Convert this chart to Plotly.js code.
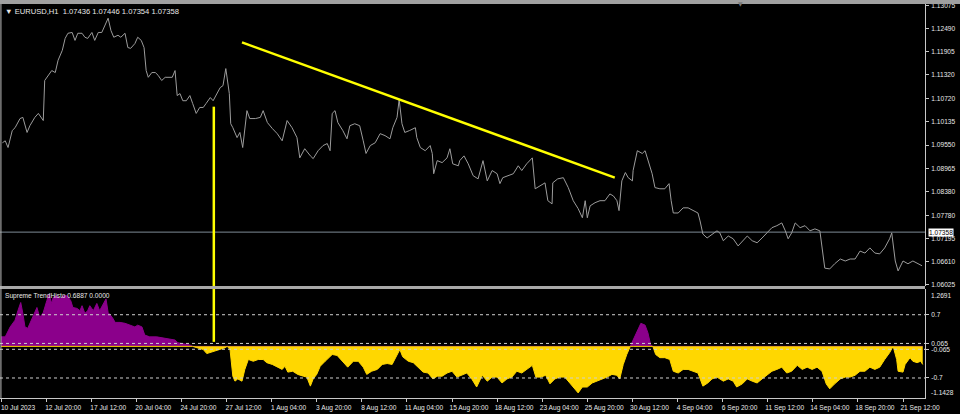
<!DOCTYPE html>
<html>
<head>
<meta charset="utf-8">
<script src="https://cdn.plot.ly/plotly-3.0.1.min.js"></script>
<style>
html,body{margin:0;padding:0;background:#000;}
#chart{width:960px;height:414px;}
</style>
</head>
<body>
<div id="chart"></div>
<script>
// ---- DATA ----
const symbolHeader = "\u25BC EURUSD,H1  1.07436 1.07446 1.07354 1.07358";
const indicatorHeader = "Supreme TrendHisto 0.6887 0.0000";

// H1 bar index (trading hours from 10 Jul 2023) and close price
const priceBars = [
  2,6,10,16,20,27,31,37,41,48,53,
  60,62,67,72,77,81,87,91,95,101,
  105,109,115,119,123,129,133,138,143,148,
  152,156,160,166,170,176,180,184,190,194,
  199,203,206,209,214,219,223,228,233,237,
  243,247,250,254,258,263,268,272,277,282,
  287,291,297,301,307,311,315,319,324,326,
  329,335,339,343,349,353,361,368,372,378,
  385,392,399,406,413,420,424,431,439,443,
  450,457,463,467,470,474,478,485,491,495,
  502,509,514,518,524,531,538,545,552,556,
  562,565,569,573,580,588,590,595,602,609,
  612,614,619,626,633,637,641,649,651,657,
  663,670,677,684,690,697,704,708,712,720,
  727,734,739,746,754,758,765,772,776,782,
  783,790,798,805,812,819,825,829,832,836,
  843,850,857,864,869,874,877,881,886,890,
  896,897,903,910,914,918,924,928,935,942,
  948,951,954,961,968,975,982,989,992,996,
  1002,1009,1016,1020,1025,1032,1039,1046,1053,1059,
  1066,1073,1080,1087,1094,1101,1108,1113,1117,1122,
  1127,1134,1141,1148,1155,1162,1165,1169,1176,1183,
  1191,1198,1205,1212,1219,1226,1233,1240,1247,1254,
  1261,1264,1269,1273,1280,1287,1294,1301,1307
];
const priceClose = [
  1.0961,1.0966,1.0949,1.0992,1.0999,1.1022,1.1025,1.0987,1.1004,1.1025,1.1035,
  1.1017,1.1118,1.1131,1.1143,1.1138,1.1169,1.1194,1.1224,1.1237,1.1239,
  1.1219,1.1237,1.1237,1.1227,1.1224,1.1239,1.1219,1.1239,1.1239,1.1257,
  1.1275,1.1244,1.1227,1.1232,1.1227,1.1237,1.1201,1.1199,1.1211,1.1227,
  1.1219,1.1201,1.1143,1.1126,1.1138,1.1138,1.1131,1.1118,1.1126,1.1126,
  1.1126,1.1143,1.1080,1.1085,1.1067,1.1067,1.1080,1.1060,1.1035,1.1050,
  1.1050,1.1060,1.1075,1.1067,1.1085,1.1100,1.1105,1.1148,1.1085,1.1009,
  1.0999,1.0974,1.0987,1.0949,1.1042,1.1022,1.1022,1.1025,1.1042,1.1012,
  1.0997,1.0984,1.0966,1.1017,1.0999,1.0974,1.0923,1.0946,1.0928,1.0921,
  1.0941,1.0954,1.0959,1.0941,1.1035,1.1042,1.1012,1.0992,1.0971,1.1004,
  1.1009,1.1004,1.0966,1.0934,1.0954,1.0961,1.0984,1.0979,1.0971,1.0999,
  1.1025,1.1070,1.1009,1.0987,1.0992,1.0999,1.0974,1.0949,1.0941,1.0954,
  1.0934,1.0883,1.0916,1.0911,1.0923,1.0946,1.0908,1.0903,1.0916,1.0928,
  1.0908,1.0878,1.0870,1.0916,1.0865,1.0891,1.0883,1.0858,1.0873,1.0878,
  1.0883,1.0903,1.0891,1.0908,1.0923,1.0845,1.0853,1.0860,1.0815,1.0807,
  1.0860,1.0870,1.0873,1.0848,1.0815,1.0795,1.0772,1.0815,1.0772,1.0802,
  1.0810,1.0815,1.0815,1.0832,1.0827,1.0815,1.0790,1.0865,1.0886,1.0873,
  1.0865,1.0891,1.0941,1.0934,1.0941,1.0916,1.0883,1.0848,1.0845,1.0845,
  1.0858,1.0815,1.0784,1.0784,1.0797,1.0797,1.0790,1.0784,1.0764,1.0731,
  1.0721,1.0731,1.0739,1.0734,1.0714,1.0726,1.0719,1.0701,1.0714,1.0726,
  1.0714,1.0709,1.0721,1.0734,1.0747,1.0752,1.0759,1.0739,1.0719,1.0734,
  1.0759,1.0747,1.0752,1.0739,1.0744,1.0739,1.0696,1.0645,1.0643,1.0656,
  1.0668,1.0663,1.0668,1.0668,1.0688,1.0683,1.0696,1.0683,1.0681,1.0696,
  1.0719,1.0734,1.0663,1.0638,1.0663,1.0656,1.0663,1.0656,1.0651
];

// Supreme TrendHisto indicator
const histoBars = [
  0,6,13,20,24,28,31,34,38,45,
  51,55,60,65,68,72,74,79,84,88,
  94,99,102,108,112,115,119,123,126,131,
  136,140,145,149,152,158,162,169,176,183,
  190,194,200,204,211,221,230,240,247,251,
  261,268,272,278,287,292,301,311,318,321,
  325,329,332,336,342,346,351,358,365,372,
  377,385,392,399,403,407,414,421,429,434,
  439,443,448,453,460,470,477,485,492,500,
  507,514,519,526,534,541,548,555,562,566,
  570,578,585,592,599,606,613,619,626,633,
  640,647,654,661,668,675,683,690,697,704,
  711,718,725,732,739,746,754,759,766,773,
  779,786,793,800,807,815,819,825,832,839,
  846,853,860,867,874,878,883,888,893,897,
  903,908,914,918,922,925,929,935,942,949,
  954,961,968,975,982,989,996,1003,1009,1016,
  1025,1032,1039,1044,1052,1059,1066,1073,1080,1087,
  1094,1101,1108,1115,1122,1130,1137,1144,1151,1158,
  1165,1171,1176,1183,1191,1198,1205,1212,1219,1226,
  1233,1240,1247,1254,1261,1266,1271,1273,1280,1283,
  1290,1294,1300,1305,1308
];
const histoValues = [
  0.21,0.21,0.43,0.58,0.79,0.97,0.73,0.43,0.40,0.64,
  0.86,0.64,0.75,1.01,1.16,0.95,1.08,1.12,1.05,1.12,
  1.12,1.01,0.86,0.84,0.79,0.90,0.73,0.79,0.90,0.79,
  0.95,0.79,0.95,1.05,0.75,0.64,0.53,0.53,0.51,0.47,
  0.43,0.47,0.43,0.25,0.21,0.21,0.19,0.16,0.14,0.08,
  0.06,0.03,0,-0.03,-0.07,-0.16,-0.12,-0.07,-0.03,0,
  -0.07,-0.66,-0.77,-0.72,-0.77,-0.51,-0.29,-0.33,-0.29,-0.29,
  -0.36,-0.40,-0.46,-0.51,-0.44,-0.57,-0.55,-0.62,-0.66,-0.68,
  -0.88,-0.72,-0.62,-0.44,-0.33,-0.18,-0.20,-0.33,-0.46,-0.33,
  -0.33,-0.46,-0.62,-0.55,-0.51,-0.40,-0.38,-0.40,-0.20,-0.07,
  -0.23,-0.33,-0.36,-0.46,-0.57,-0.59,-0.72,-0.66,-0.66,-0.59,
  -0.55,-0.68,-0.64,-0.59,-0.72,-0.90,-0.64,-0.77,-0.68,-0.68,
  -0.81,-0.72,-0.68,-0.55,-0.59,-0.51,-0.42,-0.68,-0.68,-0.64,
  -0.83,-0.72,-0.68,-0.68,-0.81,-0.94,-1.03,-0.90,-0.90,-0.81,
  -0.77,-0.72,-0.68,-0.62,-0.64,-0.72,-0.40,-0.18,0,0.14,
  0.36,0.51,0.47,0.30,0.03,0,-0.18,-0.25,-0.25,-0.29,
  -0.55,-0.59,-0.51,-0.51,-0.55,-0.59,-0.88,-0.81,-0.72,-0.68,
  -0.77,-0.72,-0.77,-0.90,-0.83,-0.72,-0.77,-0.81,-0.72,-0.64,
  -0.55,-0.51,-0.46,-0.59,-0.55,-0.42,-0.51,-0.46,-0.51,-0.46,
  -0.55,-0.83,-0.94,-0.83,-0.72,-0.68,-0.68,-0.64,-0.55,-0.55,
  -0.46,-0.51,-0.46,-0.29,-0.14,0,-0.29,-0.55,-0.57,-0.40,
  -0.25,-0.33,-0.36,-0.33,-0.40
];

// user drawings
const trendBars = [342, 871];
const trendPrices = [1.1214, 1.0873];
const markerBar = 302;
const markerPrice = 1.1052;
const markerHisto = 0.10;

const currentPrice = 1.07358;
const histoLevels = [0.7, 0.065, -0.065, -0.7];
const histoMax = 1.2691, histoMin = -1.1428;

const priceTickText = ["1.13075","1.12490","1.11905","1.11320","1.10720","1.10135","1.09550",
  "1.08965","1.08380","1.07780","1.07195","1.06610","1.06025"];
const histoTickText = ["0.7","0.065","-0.065","-0.7"];
const timeTickText = ["10 Jul 2023","12 Jul 20:00","17 Jul 12:00","20 Jul 04:00","24 Jul 20:00",
  "27 Jul 12:00","1 Aug 04:00","3 Aug 20:00","8 Aug 12:00","11 Aug 04:00","15 Aug 20:00",
  "18 Aug 12:00","23 Aug 04:00","25 Aug 20:00","30 Aug 12:00","4 Sep 04:00","6 Sep 20:00",
  "11 Sep 12:00","14 Sep 04:00","18 Sep 20:00","21 Sep 12:00"];
const barsPerTimeTick = 64;

// ---- CHART ----
const FONT = "Liberation Sans, Arial, sans-serif";
const TXT = "#e8e8e8";
const AX = "#c8c8c8";
const FS = 6.6;
const timeTickVals = timeTickText.map((_, i) => i * barsPerTimeTick);
const priceTickVals = priceTickText.map(Number);

const traces = [
  {x: priceBars, y: priceClose, xaxis: "x", yaxis: "y", type: "scatter", mode: "lines",
   line: {color: "#9c9c9c", width: 1}, hoverinfo: "skip"},
  {x: trendBars, y: trendPrices, xaxis: "x", yaxis: "y", type: "scatter", mode: "lines",
   line: {color: "#ffff00", width: 2.5}, hoverinfo: "skip"},
  {x: histoBars, y: histoValues.map(v => Math.max(v, 0)), xaxis: "x", yaxis: "y2",
   type: "scatter", mode: "lines", fill: "tozeroy", fillcolor: "#8b008b",
   line: {color: "#8b008b", width: 1}, hoverinfo: "skip"},
  {x: histoBars, y: histoValues.map(v => Math.min(v, 0)), xaxis: "x", yaxis: "y2",
   type: "scatter", mode: "lines", fill: "tozeroy", fillcolor: "#ffd700",
   line: {color: "#ffd700", width: 1}, hoverinfo: "skip"}
];

const shapes = [];
// panel separator
shapes.push({type: "rect", xref: "paper", yref: "paper", x0: -0.002, x1: 1, y0: 0.2766, y1: 0.2843,
  fillcolor: "#a8a8a8", line: {width: 0}, layer: "above"});
// top frame
shapes.push({type: "rect", xref: "paper", yref: "paper", x0: -0.002, x1: 1.04, y0: 1, y1: 1.012,
  fillcolor: "#a0a0a0", line: {width: 0}, layer: "above"});
// left frame
shapes.push({type: "line", xref: "paper", yref: "paper", x0: 0.001, x1: 0.001, y0: 0, y1: 1,
  line: {color: "#bdbdbd", width: 1}, layer: "above"});
// current price line
shapes.push({type: "line", xref: "paper", yref: "y", x0: 0, x1: 1, y0: currentPrice, y1: currentPrice,
  line: {color: "#7f8b97", width: 1}, layer: "below"});
// indicator levels
histoLevels.forEach(l => shapes.push({type: "line", xref: "paper", yref: "y2", x0: 0, x1: 1,
  y0: l, y1: l, line: {color: "#cfcfcf", width: 1, dash: "dot"}, layer: "above"}));
// vertical marker line
shapes.push({type: "line", xref: "x", yref: "y", x0: markerBar, x1: markerBar,
  y0: markerPrice, y1: 1.0590, line: {color: "#ffff00", width: 2.5}, layer: "above"});
shapes.push({type: "line", xref: "x", yref: "y2", x0: markerBar, x1: markerBar,
  y0: histoMax + 0.1, y1: markerHisto, line: {color: "#ffff00", width: 2.5}, layer: "above"});

const annotations = [
  {xref: "paper", yref: "paper", x: 0, y: 1, xanchor: "left", yanchor: "top", xshift: 3, yshift: -1,
   text: symbolHeader, showarrow: false, font: {family: FONT, size: 7.6, color: TXT}},
  {xref: "paper", yref: "paper", x: 0, y: 0.2766, xanchor: "left", yanchor: "top", xshift: 3, yshift: -1,
   text: indicatorHeader, showarrow: false, font: {family: FONT, size: 6.6, color: TXT}},
  {xref: "paper", yref: "y", x: 1, y: currentPrice, xanchor: "left", yanchor: "middle", xshift: 3,
   text: currentPrice.toFixed(5), showarrow: false, bgcolor: "#ffffff", borderpad: 0,
   font: {family: FONT, size: FS, color: "#000"}},
  {xref: "paper", yref: "paper", x: 1, y: 0.2766, xanchor: "left", yanchor: "top", xshift: 4, yshift: -1,
   text: histoMax.toFixed(4), showarrow: false, font: {family: FONT, size: FS, color: TXT}},
  {xref: "paper", yref: "paper", x: 1, y: 0, xanchor: "left", yanchor: "bottom", xshift: 4, yshift: 0,
   text: histoMin.toFixed(4), showarrow: false, font: {family: FONT, size: FS, color: TXT}},
  {xref: "paper", yref: "paper", x: 0.8, y: 1, xanchor: "center", yanchor: "middle", yshift: 1,
   text: "\u25BC", showarrow: false, font: {family: "DejaVu Sans", size: 6, color: "#7a7a7a"}}
];

const layout = {
  width: 960, height: 414,
  margin: {l: 0, r: 35, t: 4, b: 16, pad: 0},
  paper_bgcolor: "#000000", plot_bgcolor: "#000000",
  showlegend: false,
  font: {family: FONT, size: FS, color: TXT},
  xaxis: {anchor: "y2", range: [-1.42, 1311.2], tickmode: "array", tickvals: timeTickVals,
    ticktext: timeTickText, ticks: "outside", ticklen: 3, tickcolor: AX, tickwidth: 1,
    showline: true, linecolor: AX, linewidth: 1, showgrid: false, zeroline: false,
    tickangle: 0, ticklabelshift: 17, ticklabelstandoff: 0, ticklabeloverflow: "allow",
    tickfont: {family: FONT, size: FS, color: TXT}, fixedrange: true},
  yaxis: {domain: [0.2843, 1], range: [1.0600, 1.13108], side: "right", anchor: "x",
    tickmode: "array", tickvals: priceTickVals, ticktext: priceTickText,
    ticks: "outside", ticklen: 3, tickcolor: AX, showline: true, linecolor: AX,
    showgrid: false, zeroline: false, tickfont: {family: FONT, size: FS, color: TXT},
    ticklabelstandoff: 1, fixedrange: true},
  yaxis2: {domain: [0, 0.2766], range: [histoMin, histoMax], side: "right", anchor: "x",
    tickmode: "array", tickvals: histoLevels, ticktext: histoTickText,
    ticks: "outside", ticklen: 3, tickcolor: AX, showline: true, linecolor: AX,
    showgrid: false, zeroline: false, tickfont: {family: FONT, size: FS, color: TXT},
    ticklabelstandoff: 1, fixedrange: true},
  shapes: shapes,
  annotations: annotations
};

Plotly.newPlot("chart", traces, layout, {displayModeBar: false, staticPlot: true});
</script>
</body>
</html>
